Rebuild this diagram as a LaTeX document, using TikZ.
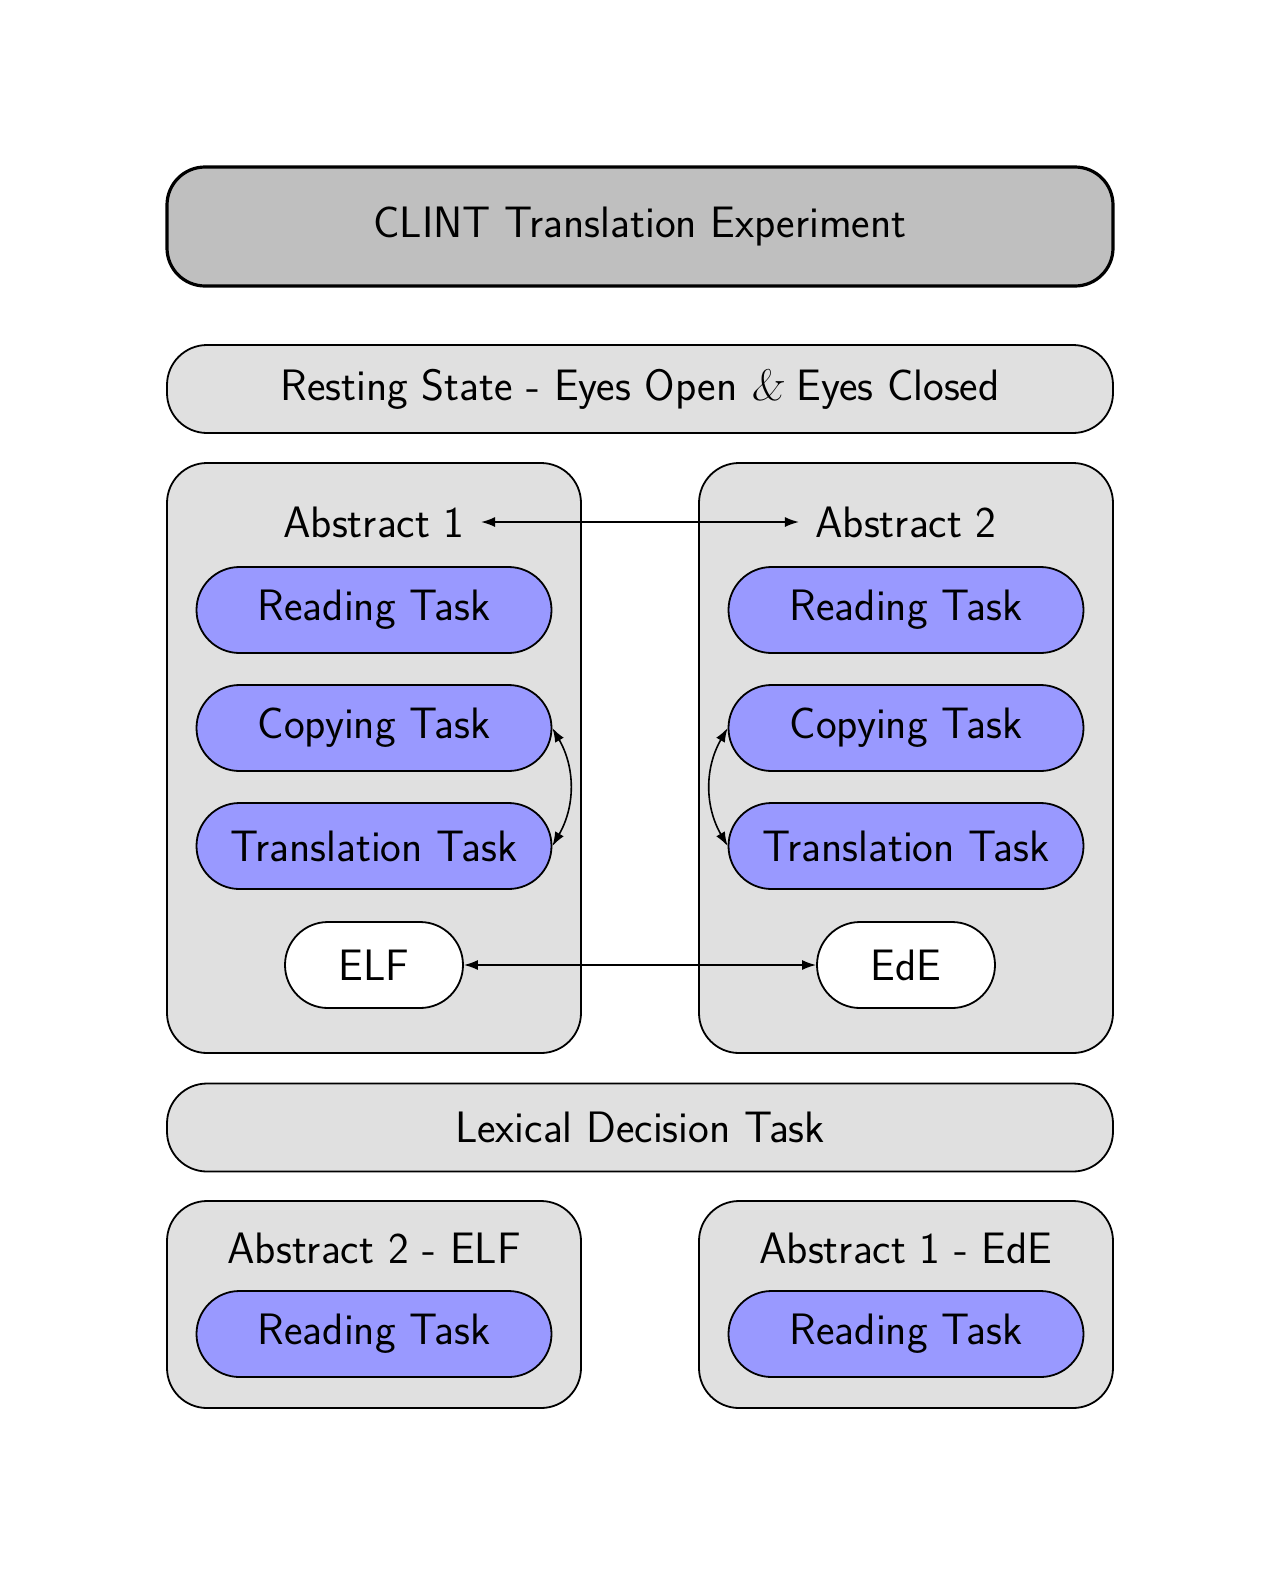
\documentclass[tikz,border=0pt]{standalone}
\usetikzlibrary{arrows.meta}
\begin{document}
\begin{tikzpicture}[x=0.5pt,y=-0.5pt,
  every node/.style={font=\sffamily\fontsize{22}{26}\selectfont, inner sep=0pt},
  titlebox/.style={draw, line width=1.6pt, fill=black!25, rounded corners=19pt, minimum width=473pt, minimum height=59.5pt},
  widebox/.style={draw, line width=0.9pt, fill=black!12, rounded corners=20pt, minimum width=473pt, minimum height=44pt},
  container/.style={draw, line width=0.9pt, fill=black!12, rounded corners=20pt, minimum width=207pt},
  taskbox/.style={draw, line width=0.9pt, fill=blue!40, rounded corners=21.5pt, minimum width=177.5pt, minimum height=43pt},
  langbox/.style={draw, line width=0.9pt, fill=white, rounded corners=21.5pt, minimum width=89pt, minimum height=43pt},
  lbl/.style={inner sep=8pt},
  link/.style={line width=0.8pt, {Latex[length=7pt,width=5pt]}-{Latex[length=7pt,width=5pt]}}
]
\useasboundingbox (0,0) rectangle (1280,1575);

\node[titlebox] (title) at (640,226.5) {CLINT Translation Experiment};
\node[widebox] (rest) at (640,389) {Resting State - Eyes Open {\rmfamily\slshape\&} Eyes Closed};

\node[container, minimum height=295pt] (contL) at (374,758) {};
\node[container, minimum height=295pt] (contR) at (906,758) {};

\node[lbl] (abs1) at (374,522) {Abstract 1};
\node[lbl] (abs2) at (906,522) {Abstract 2};

\node[taskbox] (readL) at (374,610) {Reading Task};
\node[taskbox] (copyL) at (374,728) {Copying Task};
\node[taskbox] (transL) at (374,846) {Translation Task};
\node[langbox] (elf) at (374,965) {ELF};

\node[taskbox] (readR) at (906,610) {Reading Task};
\node[taskbox] (copyR) at (906,728) {Copying Task};
\node[taskbox] (transR) at (906,846) {Translation Task};
\node[langbox] (ede) at (906,965) {EdE};

\draw[link] (abs1.east) -- (abs2.west);
\draw[link] (elf.east) -- (ede.west);
\draw[link] (copyL.east) to[bend left] (transL.east);
\draw[link] (copyR.west) to[bend right] (transR.west);

\node[widebox] (lex) at (640,1127.5) {Lexical Decision Task};

\node[container, minimum height=103.5pt] (botL) at (374,1304.5) {};
\node[container, minimum height=103.5pt] (botR) at (906,1304.5) {};
\node (abs2elf) at (374,1248) {Abstract 2 - ELF};
\node (abs1ede) at (906,1248) {Abstract 1 - EdE};
\node[taskbox] (readBL) at (374,1334) {Reading Task};
\node[taskbox] (readBR) at (906,1334) {Reading Task};
\end{tikzpicture}
\end{document}
